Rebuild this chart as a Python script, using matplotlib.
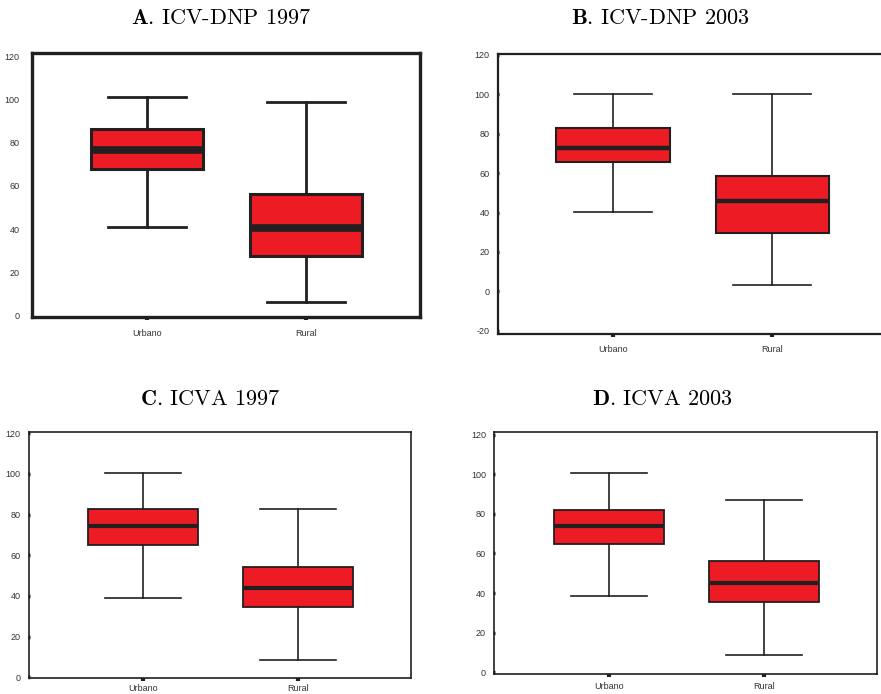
import matplotlib
matplotlib.use("Agg")
import matplotlib.pyplot as plt

plt.rcParams['mathtext.fontset'] = 'cm'

categories = ["Urbano", "Rural"]

# Five-number summaries per panel: (lower whisker, Q1, median, Q3, upper whisker)
icv_dnp_1997 = [(41.2, 68.0, 76.5, 86.2, 100.9), (6.6, 27.8, 40.5, 56.2, 98.6)]
icv_dnp_2003 = [(40.2, 65.6, 72.6, 83.0, 100.2), (3.2, 29.5, 45.8, 58.6, 100.2)]
icva_1997 = [(38.9, 65.2, 74.4, 82.6, 100.6), (8.5, 34.4, 43.8, 54.1, 82.9)]
icva_2003 = [(38.4, 64.6, 73.7, 82.1, 100.7), (8.9, 35.4, 45.2, 56.0, 87.1)]

panel_letters = ["A.", "B.", "C.", "D."]
panel_names = ["ICV-DNP 1997", "ICV-DNP 2003", "ICVA 1997", "ICVA 2003"]
panel_data = [icv_dnp_1997, icv_dnp_2003, icva_1997, icva_2003]
y_ticks = [[0, 20, 40, 60, 80, 100, 120],
           [-20, 0, 20, 40, 60, 80, 100, 120],
           [0, 20, 40, 60, 80, 100, 120],
           [0, 20, 40, 60, 80, 100, 120]]

W, H = 881, 694
fig = plt.figure(figsize=(W / 100, H / 100), dpi=100)
fig.patch.set_facecolor("white")

# axes boxes in pixels: left, top, right, bottom ; plus axis limits and line weights
layout = [
    dict(box=(32, 53, 420, 317), xlim=(0.277, 2.717), ylim=(-0.5, 121.4),
         spine=2.4, edge=2.2, med=5.5, whisk=2.0, ytick=False, xpad=7,
         title=(221, 18)),
    dict(box=(497.7, 54, 887.6, 333.7), xlim=(0.276, 2.724), ylim=(-21.4, 120.3),
         spine=1.6, edge=1.5, med=3.2, whisk=1.2, ytick=True, xpad=6,
         title=(660, 18)),
    dict(box=(29, 432.3, 410.7, 678.3), xlim=(0.266, 2.729), ylim=(-0.5, 120.5),
         spine=1.2, edge=1.3, med=3.0, whisk=1.2, ytick=True, xpad=2,
         title=(210, 399)),
    dict(box=(494.3, 432.3, 877.3, 674), xlim=(0.261, 2.728), ylim=(-0.9, 121.2),
         spine=1.2, edge=1.3, med=3.0, whisk=1.2, ytick=True, xpad=4,
         title=(662, 399)),
]

dark = "#231F20"
red = "#ED1C24"

for spec, data, letter, name, yt in zip(layout, panel_data, panel_letters,
                                        panel_names, y_ticks):
    l, t, r, b = spec["box"]
    ax = fig.add_axes([l / W, 1 - b / H, (r - l) / W, (b - t) / H])
    stats = []
    for cat, (lo, q1, med, q3, hi) in zip(categories, data):
        stats.append(dict(label=cat, whislo=lo, q1=q1, med=med, q3=q3,
                          whishi=hi, fliers=[]))
    ax.bxp(stats, positions=[1, 2], widths=0.71, capwidths=0.49,
           showfliers=False, patch_artist=True,
           boxprops=dict(facecolor=red, edgecolor=dark, linewidth=spec["edge"]),
           medianprops=dict(color=dark, linewidth=spec["med"], solid_capstyle="butt"),
           whiskerprops=dict(color=dark, linewidth=spec["whisk"]),
           capprops=dict(color=dark, linewidth=spec["whisk"]))
    ax.set_xlim(*spec["xlim"])
    ax.set_ylim(*spec["ylim"])
    ax.set_yticks(yt)
    ax.set_yticklabels([str(v) for v in yt], fontsize=6.5, color="#333333",
                       family="Liberation Sans")
    ax.set_xticks([1, 2])
    ax.set_xticklabels(categories, fontsize=6.5, color="#333333",
                       family="Liberation Sans")
    for s in ax.spines.values():
        s.set_linewidth(spec["spine"])
        s.set_color(dark)
    ax.tick_params(axis="x", length=2, width=3, color=dark, pad=spec["xpad"])
    if spec["ytick"]:
        ax.tick_params(axis="y", length=2, width=2.5, color=dark,
                       direction="inout", pad=5)
    else:
        ax.tick_params(axis="y", length=0, pad=9)
    tx, ty = spec["title"]
    fig.text(tx / W, 1 - ty / H, r"$\mathbf{" + letter + r"}\,$" + name,
             ha="center", va="center", fontsize=16, family="cmr10")

fig.savefig("out.png", dpi=100, facecolor="white")
